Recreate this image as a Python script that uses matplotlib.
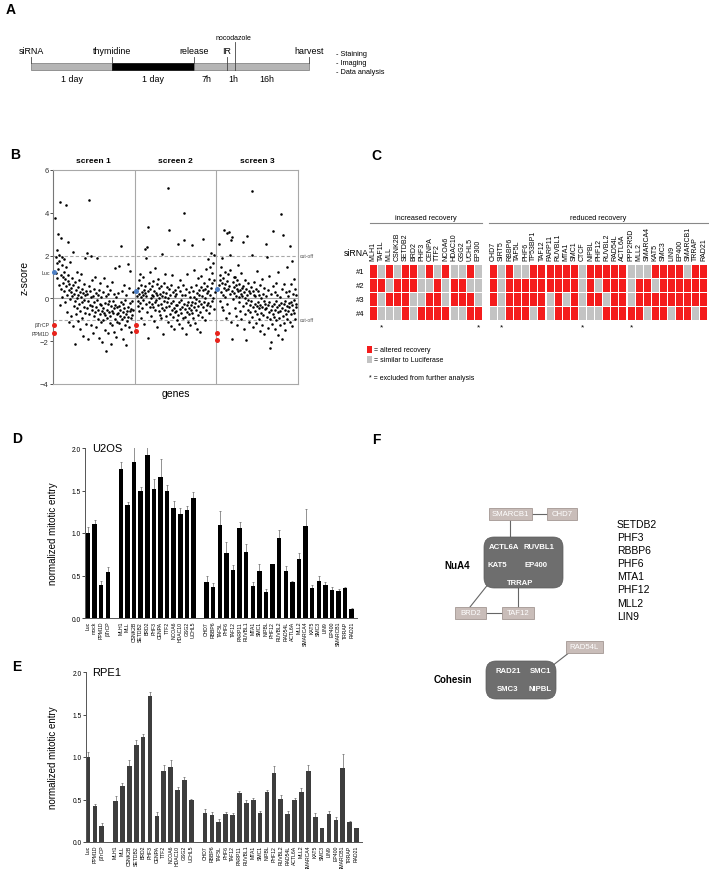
import numpy as np
import matplotlib.pyplot as plt
from matplotlib.patches import FancyBboxPatch, Rectangle

plt.rcParams['font.family'] = ['Liberation Sans', 'DejaVu Sans']

W, H = 709, 870

# ---------------- data ----------------
# A: timeline
tl_events = ['siRNA', 'thymidine', 'release', 'IR', 'harvest']
tl_spans = ['1 day', '1 day', '7h', '1h', '16h']
tl_after = ['- Staining', '- Imaging', '- Data analysis']

# B: z-scores per screen, in plate order
screen1 = [3.75, 1.92, 1.21, 2.28, 0.95, 1.64, 3.02, 1.38, 0.62, 2.05, 1.77, 4.52, -0.31, 1.11, 0.43, 2.81, 1.55, 0.08, 1.95, 1.02,
           0.72, 1.86, 0.35, 1.24, -0.18, 0.91, 4.35, 0.58, 1.47, -0.62, 0.14, 2.62, 0.83, 1.08, -1.12, 0.41, 0.66, 1.72, -0.05, 0.29,
           0.47, -0.83, 0.95, 0.12, -1.28, 0.61, 2.18, -0.34, 0.22, -2.15, 0.78, -0.12, 0.38, -0.71, 1.25, 0.03, -0.45, 0.55, -1.05, 0.18,
           -0.26, 0.84, -1.42, 0.31, -0.58, 0.07, 1.12, -0.93, 0.42, -0.15, -1.75, 0.26, -0.38, 0.68, -0.07, 1.88, -0.66, 0.15, -1.18, 0.36,
           2.12, -0.47, 0.21, -1.92, -0.13, 0.58, 4.62, -0.74, 0.33, -0.29, 1.98, -1.22, 0.05, -0.55, 0.87, -0.36, -1.63, 0.11, -0.82, 0.44,
           -0.19, 1.02, -0.63, -1.35, 0.27, -0.41, -0.08, 1.91, -0.95, 0.16, -0.52, -1.84, 0.39, -0.24, -0.71, 0.72, -1.08, -0.33, 0.06, -0.58,
           -2.02, -0.44, 0.31, -1.01, -0.66, 0.95, -0.21, -1.48, -0.77, 0.12, -2.45, -0.52, 0.58, -0.91, -0.28, -1.62, 0.22, -0.63, -0.12, -1.17,
           -0.83, 0.41, -0.37, -2.12, -0.58, 0.78, -1.26, -0.14, -0.69, 0.19, -1.55, -0.47, 1.43, -0.98, -0.31, -1.82, 0.05, -0.74, -0.42, -1.09,
           -0.66, 0.27, -1.13, -0.35, 1.52, -0.81, -0.52, -1.41, 2.45, -0.18, -0.94, 0.36, -0.62, -1.92, -0.27, 0.62, -0.88, -0.46, -1.24, -0.09,
           -0.72, -2.18, 0.14, -0.57, -1.06, 1.62, -0.38, -0.85, 0.48, -1.33, -0.61, -0.21, 1.28, -0.93, -0.49, -1.55, -0.12, -0.77, 0.31, -0.55]
screen2 = [0.12, -0.35, 0.48, -0.12, 0.85, -0.58, 0.22, 1.15, -0.21, 0.05, 0.63, -0.92, 0.31, -0.44, 0.18, 1.02, -0.07, 0.41, -1.18, 0.27,
           2.31, 0.56, -0.28, 1.88, 0.09, 2.42, -0.62, 0.34, 3.35, -1.85, 0.71, -0.15, 0.44, -0.38, 1.24, 0.02, -0.83, 0.59, -0.24, 0.17,
           -0.42, 0.83, 0.11, -1.05, 0.36, -0.19, 1.42, -0.55, 0.25, -0.08, 0.68, -1.32, 0.14, -0.33, 0.92, -0.61, 0.04, 0.47, -0.76, 0.21,
           -0.27, 0.58, -0.92, 0.13, 2.08, -0.45, 0.32, -1.68, -0.14, 0.74, -0.52, 0.06, 1.15, -0.38, -0.81, 0.26, -0.17, 0.51, -1.12, 0.02,
           5.15, 3.21, -0.35, 0.42, -0.71, 0.15, -1.28, -0.22, 0.63, -0.54, 1.08, -0.12, -0.88, 0.28, -0.43, -1.45, 0.09, -0.64, 0.37, -0.29,
           -0.58, 0.21, -1.02, -0.31, 0.55, -0.77, 2.52, -0.16, -1.21, 0.33, -0.48, 0.88, -0.69, -0.07, -1.38, 0.18, -0.42, 0.62, -0.91, -0.24,
           3.98, 2.71, -0.51, 0.14, -0.85, -1.66, 0.45, -0.33, -0.62, 1.12, -0.18, -1.08, 0.28, -0.47, -0.74, 0.07, -1.25, 0.52, -0.29, -0.56,
           -0.15, 2.48, -0.68, 0.36, -0.92, 0.08, -0.41, 1.34, -1.15, -0.22, 0.61, -0.53, -0.04, -1.42, 0.23, 0.95, -0.36, -0.78, 0.41, -0.11,
           0.18, -0.62, -1.58, 0.54, -0.25, 1.05, 0.12, -0.88, 0.38, -0.41, 2.78, 0.71, -0.18, -1.02, 0.46, 0.02, 1.38, -0.52, 0.26, -0.31,
           0.58, -0.22, 1.82, 0.35, -0.68, 0.92, 0.14, 1.46, -0.35, 2.11, 0.47, -0.12, 1.18, 0.72, 0.03, 1.65, -0.48, 0.86, 2.02, 0.31]
screen3 = [2.55, 0.62, 1.08, -0.12, 0.85, 0.31, 1.45, -0.38, 0.72, 1.88, 0.15, 0.96, -0.55, 0.48, 3.21, 1.22, 0.08, 0.67, -0.91, 0.39,
           0.82, 3.05, -0.24, 1.15, 0.44, 3.12, -0.68, 0.57, 2.02, 0.19, 1.32, -1.12, 2.72, 0.35, -1.88, 2.86, 0.76, -0.05, 0.51, 0.98,
           0.27, -0.44, 1.02, 0.61, -0.82, 0.13, 0.88, 0.42, -1.25, 0.33, 1.56, -0.18, 0.69, 0.05, -0.57, 0.38, 1.18, -0.96, 0.22, 0.47,
           0.11, 2.62, -0.36, 0.58, -1.42, 0.28, -0.71, 0.84, 0.02, -1.95, 0.45, -0.22, 2.92, 0.16, -0.53, 0.72, -0.09, -1.08, 0.35, -0.31,
           0.24, -0.62, 0.51, -0.14, 5.02, -0.88, 2.05, 0.33, -0.41, -1.35, 0.18, 0.78, -0.27, -0.58, 0.09, -1.16, 0.42, -0.35, 1.28, -0.72,
           -0.18, 0.36, -0.95, -0.43, 0.15, -1.52, 0.62, -0.29, -0.66, 0.04, 0.92, -1.22, -0.38, 0.21, -0.79, -0.12, -1.65, 0.48, -0.51, -0.25,
           2.56, -0.46, 0.13, 1.92, -0.85, -0.31, -1.38, 0.38, -0.62, -0.15, 1.05, -0.98, -2.31, -2.02, -0.52, 0.22, -1.18, -0.36, 0.56, -0.71,
           3.15, -0.28, -0.88, 0.31, -1.45, -0.52, 0.72, -0.14, -1.02, -0.41, 0.15, -1.72, -0.63, 1.22, -0.33, -0.92, 0.08, -0.58, -1.26, -0.21,
           3.95, -1.90, -0.46, 0.42, -0.82, 2.94, -0.25, -1.15, 0.65, -0.55, -0.12, -1.48, 0.28, -0.71, 1.45, -0.36, -0.98, 0.12, -0.61, -0.22,
           -0.42, 0.35, -1.08, 2.45, -0.18, 0.68, -0.75, 1.75, -0.31, -1.28, 0.22, -0.52, 0.91, -0.09, -0.66, 0.46, -0.95, -0.24, 0.15, -0.38]
luc_z = [1.23, 0.34, 0.43]
btrcp_z = [-1.23, -1.23, -1.63]
ppm1d_z = [-1.63, -1.50, -1.95]
cutoffs = [2, -1]

# C: validation heatmap (1 = altered recovery, 0 = similar to Luciferase)
inc_genes = ['MLH1', 'TAF1L', 'MLL', 'CSNK2B', 'SETDB2', 'BRD2', 'PHF3', 'CENPA', 'TTF2', 'NCOA6',
             'HDAC10', 'GSG2', 'UCHL5', 'EP300']
inc_calls = [[1, 0, 1, 0, 1, 1, 0, 1, 0, 1, 0, 0, 1, 0],
             [1, 1, 0, 1, 1, 1, 0, 0, 1, 0, 1, 1, 0, 0],
             [1, 0, 1, 1, 1, 0, 0, 1, 1, 0, 1, 1, 1, 0],
             [1, 0, 0, 0, 1, 0, 1, 1, 1, 1, 0, 0, 1, 1]]
red_genes = ['CHD7', 'SIRT5', 'RBBP6', 'TAF5L', 'PHF6', 'TP53BP1', 'TAF12', 'PARP11', 'RUVBL1', 'MTA1',
             'SMC1', 'CTCF', 'NIPBL', 'PHF12', 'RUVBL2', 'RAD54L', 'ACTL6A', 'PPP2R5D', 'MLL2', 'SMARCA4',
             'KAT5', 'SMC3', 'LIN9', 'EP400', 'SMARCB1', 'TRRAP', 'RAD21']
red_calls = [[1, 0, 1, 0, 0, 1, 1, 1, 1, 1, 1, 0, 1, 1, 1, 1, 1, 0, 0, 0, 1, 1, 1, 1, 0, 1, 1],
             [1, 0, 1, 1, 1, 1, 1, 1, 1, 1, 1, 0, 1, 0, 1, 1, 1, 0, 1, 1, 0, 1, 1, 1, 1, 1, 1],
             [1, 0, 1, 1, 1, 1, 1, 0, 1, 0, 1, 0, 1, 1, 0, 1, 1, 0, 1, 1, 1, 1, 1, 1, 1, 1, 1],
             [0, 0, 1, 1, 1, 0, 1, 0, 1, 1, 1, 0, 0, 0, 1, 1, 1, 1, 1, 0, 1, 1, 0, 1, 1, 0, 1]]
excluded = ['TAF1L', 'EP300', 'SIRT5', 'CTCF', 'PPP2R5D']
sirna_ids = ['#1', '#2', '#3', '#4']

# D/E: normalized mitotic entry
grp_inc = ['MLH1', 'MLL', 'CSNK2B', 'SETDB2', 'BRD2', 'PHF3', 'CENPA', 'TTF2', 'NCOA6', 'HDAC10', 'GSG2', 'UCHL5']
grp_red = ['CHD7', 'RBBP6', 'TAF5L', 'PHF6', 'TAF12', 'PARP11', 'RUVBL1', 'MTA1', 'SMC1', 'NIPBL', 'PHF12',
           'RUVBL2', 'RAD54L', 'ACTL6A', 'MLL2', 'SMARCA4', 'KAT5', 'SMC3', 'LIN9', 'EP400', 'SMARCB1', 'TRRAP', 'RAD21']
u2os_ctrl = ['Luc', 'mock', 'PPM1D', 'βTrCP']
u2os_ctrl_val = [1.00, 1.11, 0.39, 0.54]
u2os_ctrl_top = [1.07, 1.15, 0.44, 0.60]
u2os_inc_val = [1.75, 1.33, 1.83, 1.49, 1.92, 1.52, 1.66, 1.50, 1.29, 1.22, 1.27, 1.41]
u2os_inc_top = [1.84, 1.37, 2.01, 1.54, 2.01, 1.63, 1.87, 1.57, 1.38, 1.30, 1.32, 1.48]
u2os_red_val = [0.42, 0.37, 1.09, 0.77, 0.56, 1.06, 0.78, 0.38, 0.55, 0.31, 0.63, 0.94, 0.55, 0.42, 0.70, 1.08,
                0.35, 0.44, 0.39, 0.33, 0.32, 0.35, 0.11]
u2os_red_top = [0.49, 0.41, 1.26, 0.89, 0.62, 1.13, 0.87, 0.42, 0.63, 0.34, 0.64, 1.04, 0.61, 0.44, 0.76, 1.28,
                0.39, 0.49, 0.42, 0.36, 0.34, 0.36, 0.12]
rpe1_ctrl = ['Luc', 'PPM1D', 'βTrCP']
rpe1_ctrl_val = [1.00, 0.42, 0.19]
rpe1_ctrl_top = [1.06, 0.45, 0.22]
rpe1_inc_val = [0.48, 0.66, 0.90, 1.14, 1.24, 1.72, 0.31, 0.84, 0.88, 0.61, 0.73, 0.50]
rpe1_inc_top = [0.54, 0.70, 0.97, 1.20, 1.27, 1.76, 0.35, 0.91, 0.96, 0.65, 0.76, 0.51]
rpe1_red_val = [0.34, 0.32, 0.23, 0.33, 0.32, 0.58, 0.46, 0.49, 0.34, 0.59, 0.81, 0.51, 0.33, 0.49, 0.59, 0.84,
                0.30, 0.16, 0.33, 0.26, 0.87, 0.23, 0.16]
rpe1_red_top = [0.39, 0.35, 0.27, 0.35, 0.34, 0.60, 0.49, 0.52, 0.37, 0.61, 0.89, 0.55, 0.36, 0.52, 0.63, 0.91,
                0.34, 0.17, 0.37, 0.30, 1.03, 0.25, 0.17]

# F: complexes
nua4_members = ['ACTL6A', 'RUVBL1', 'KAT5', 'EP400', 'TRRAP']
cohesin_members = ['RAD21', 'SMC1', 'SMC3', 'NIPBL']
other_hits = ['SETDB2', 'PHF3', 'RBBP6', 'PHF6', 'MTA1', 'PHF12', 'MLL2', 'LIN9']


def rect(x, y, w, h):
    return [x / W, 1 - (y + h) / H, w / W, h / H]


fig = plt.figure(figsize=(W / 100, H / 100), dpi=100)
ov = fig.add_axes([0, 0, 1, 1])
ov.set_xlim(0, W)
ov.set_ylim(H, 0)
ov.axis('off')

for letter, (lx, ly) in zip('ABCDEF', [(11, 10), (15, 155), (376, 156), (17, 439), (17, 667), (376, 440)]):
    ov.text(lx, ly, letter, fontsize=10, fontweight='bold', ha='center', va='center')

# ---------------- A ----------------
ev_x = [31, 112, 194, 227, 309]
noco_x = 235
bar_y, bar_h = 64, 7
ov.add_patch(Rectangle((31, bar_y), 81, bar_h, fc='#b5b5b5', ec='#777777', lw=0.5))
ov.add_patch(Rectangle((112, bar_y), 82, bar_h, fc='black', ec='black', lw=0.5))
ov.add_patch(Rectangle((194, bar_y), 115, bar_h, fc='#b5b5b5', ec='#777777', lw=0.5))
for name, x in zip(tl_events, ev_x):
    y1 = bar_y + bar_h if name == 'IR' else bar_y
    ov.plot([x, x], [58, y1], color='#444444', lw=0.6)
    ov.text(x, 52, name, fontsize=6.4, ha='center', va='center')
ov.plot([noco_x, noco_x], [43, bar_y + bar_h], color='#444444', lw=0.6)
ov.text(noco_x - 2, 38, 'nocodazole', fontsize=5, ha='center', va='center')
for lab, x in zip(tl_spans, [72, 153, 207, 233, 267]):
    ov.text(x, 79, lab, fontsize=6.4, ha='center', va='center')
for k, lab in enumerate(tl_after):
    ov.text(336, 54.5 + 8.8 * k, lab, fontsize=5.3, ha='left', va='center')

# ---------------- B ----------------
axB = fig.add_axes(rect(53, 171, 245, 214))
gcol = '#a8a8a8'
for k, vals in enumerate([screen1, screen2, screen3]):
    n = len(vals)
    xs = k + 0.03 + 0.95 * np.arange(n) / (n - 1)
    axB.scatter(xs, vals, s=3.4, c='black', linewidths=0, zorder=3)
    axB.scatter([k + 0.012], [luc_z[k]], s=13, c='#4d7fc4', linewidths=0, zorder=4, clip_on=False)
    axB.scatter([k + 0.012] * 2, [btrcp_z[k], ppm1d_z[k]], s=13, c='#e8231b', linewidths=0, zorder=4,
                clip_on=False)
    axB.text(k + 0.5, 1.03, f'screen {k + 1}', transform=axB.get_xaxis_transform(), fontsize=6,
             fontweight='bold', ha='center', va='bottom')
for xv in (1, 2):
    axB.axvline(xv, color=gcol, lw=0.8, zorder=1)
axB.axhline(0, color=gcol, lw=0.8, zorder=1)
for c in cutoffs:
    axB.axhline(c, color=gcol, lw=0.8, ls=(0, (3, 2)), zorder=1)
    axB.text(3.02, c, 'cut-off', fontsize=3.6, color='#555555', ha='left', va='center', clip_on=False)
axB.text(-0.04, luc_z[0], 'Luc', fontsize=3.8, color='#333333', ha='right', va='center')
axB.text(-0.04, btrcp_z[0], 'βTrCP', fontsize=3.8, color='#333333', ha='right', va='center')
axB.text(-0.04, ppm1d_z[0], 'PPM1D', fontsize=3.8, color='#333333', ha='right', va='center')
axB.set_xlim(0, 3)
axB.set_ylim(-4, 6)
axB.set_yticks([-4, -2, 0, 2, 4, 6])
axB.set_xticks([])
axB.tick_params(axis='y', labelsize=5.5, length=2, width=0.6, pad=1, colors='#333333')
for sp in axB.spines.values():
    sp.set_color(gcol)
    sp.set_linewidth(0.8)
axB.spines['left'].set_color('#777777')
axB.set_ylabel('z-score', fontsize=7.5)
axB.yaxis.set_label_coords(-0.095, 0.5)
axB.set_xlabel('genes', fontsize=7.5)
axB.xaxis.set_label_coords(0.5, -0.02)

# ---------------- C ----------------
axC = fig.add_axes(rect(369, 265, 339, 57))
red_c, grey_c = '#f41c1c', '#c3c3c3'
inc_x = np.arange(len(inc_genes))
red_x = 14.85 + np.arange(len(red_genes))
for r in range(4):
    for xs, calls in ((inc_x, inc_calls[r]), (red_x, red_calls[r])):
        axC.bar(xs + 0.5, 0.9, bottom=r + 0.05, width=0.86,
                color=[red_c if v else grey_c for v in calls], edgecolor='none')
    axC.text(-0.5, r + 0.5, sirna_ids[r], fontsize=5.5, ha='right', va='center')
for xs, genes in ((inc_x, inc_genes), (red_x, red_genes)):
    for x, g in zip(xs, genes):
        axC.text(x + 0.5, -0.3, g, rotation=90, fontsize=5.0, ha='center', va='bottom')
        if g in excluded:
            axC.text(x + 0.5, 4.15, '*', fontsize=6, ha='center', va='top')
axC.set_xlim(0, 41.85)
axC.set_ylim(4, 0)
axC.axis('off')
ov.text(356, 253, 'siRNA', fontsize=6.3, ha='center', va='center')
ov.plot([370, 482], [224, 224], color='#888888', lw=0.8)
ov.plot([489, 708], [224, 224], color='#888888', lw=0.8)
ov.text(426, 218.5, 'increased recovery', fontsize=5.3, ha='center', va='center')
ov.text(598, 218.5, 'reduced recovery', fontsize=5.3, ha='center', va='center')
ov.add_patch(Rectangle((367, 347), 4.5, 7, fc=red_c, ec='none'))
ov.add_patch(Rectangle((367, 357), 4.5, 7, fc=grey_c, ec='none'))
ov.text(373.5, 350.5, '= altered recovery', fontsize=5, ha='left', va='center')
ov.text(373.5, 360.5, '= similar to Luciferase', fontsize=5, ha='left', va='center')
ov.text(369, 378.5, '* = excluded from further analysis', fontsize=5, ha='left', va='center')


# ---------------- D / E ----------------
def bar_panel(box, labels, vals, tops, pos, color, cell, xlim):
    ax = fig.add_axes(rect(*box))
    vals = np.array(vals)
    tops = np.array(tops)
    ax.bar(pos, vals, width=0.68, color=color, zorder=2)
    ax.errorbar(pos, vals, yerr=[np.zeros_like(vals), tops - vals], fmt='none',
                ecolor='#666666', elinewidth=0.5, capsize=0.8, capthick=0.5, zorder=1)
    ax.set_xlim(*xlim)
    ax.set_ylim(0, 2.0)
    ax.set_yticks([0, 0.5, 1.0, 1.5, 2.0])
    ax.set_yticklabels(['0.0', '0.5', '1.0', '1.5', '2.0'])
    ax.set_xticks(pos)
    ax.set_xticklabels(labels, rotation=90, fontsize=3.7)
    ax.tick_params(axis='y', labelsize=4.8, length=2, width=0.5, pad=1)
    ax.tick_params(axis='x', length=0, pad=2)
    for s in ('top', 'right'):
        ax.spines[s].set_visible(False)
    for s in ('left', 'bottom'):
        ax.spines[s].set_color('#555555')
        ax.spines[s].set_linewidth(0.7)
    ax.set_ylabel('normalized mitotic entry', fontsize=7)
    ax.yaxis.set_label_coords(-0.1, 0.5)
    ax.text(pos[0] + 0.6, 2.0, cell, fontsize=8, ha='left', va='center')
    return ax


pos_d = np.concatenate([np.arange(4), 5 + np.arange(12), 18 + np.arange(23)])
bar_panel((85, 449, 272, 170), u2os_ctrl + grp_inc + grp_red,
          u2os_ctrl_val + u2os_inc_val + u2os_red_val, u2os_ctrl_top + u2os_inc_top + u2os_red_top,
          pos_d, 'black', 'U2OS', (-0.45, 40.8))
pos_e = np.concatenate([np.arange(3), 4 + np.arange(12), 17 + np.arange(23)])
bar_panel((86, 673, 276, 170), rpe1_ctrl + grp_inc + grp_red,
          rpe1_ctrl_val + rpe1_inc_val + rpe1_red_val, rpe1_ctrl_top + rpe1_inc_top + rpe1_red_top,
          pos_e, '#3d3d3d', 'RPE1', (-0.3, 39.8))

# ---------------- F ----------------
dark, light, light_ec, lcol = '#6e6e6e', '#c9bdb9', '#a39793', '#666666'


def complex_box(x, y, w, h, names, spots):
    ov.add_patch(FancyBboxPatch((x, y), w, h, boxstyle='round,pad=0,rounding_size=10',
                                fc=dark, ec='#5a5a5a', lw=0.5, zorder=2))
    for nm, (tx, ty) in zip(names, spots):
        ov.text(tx, ty, nm, color='white', fontsize=5.6, fontweight='bold', ha='center', va='center', zorder=3)


def small_box(cx, cy, w, name):
    ov.add_patch(Rectangle((cx - w / 2, cy - 6), w, 12, fc=light, ec=light_ec, lw=0.6, zorder=2))
    ov.text(cx, cy, name, color='white', fontsize=5.6, ha='center', va='center', zorder=3)


ov.plot([531, 547], [515, 515], color=lcol, lw=0.8, zorder=1)
ov.plot([510, 510], [521, 540], color=lcol, lw=0.8, zorder=1)
ov.plot([487.5, 470], [586, 608], color=lcol, lw=0.8, zorder=1)
ov.plot([486, 502], [613.5, 613.5], color=lcol, lw=0.8, zorder=1)
ov.plot([518, 518], [588, 608], color=lcol, lw=0.8, zorder=1)
ov.plot([552, 570], [667, 653], color=lcol, lw=0.8, zorder=1)
complex_box(484, 538, 79, 51, nua4_members,
            [(504, 548), (539, 548), (497, 566), (536, 566), (520, 584)])
complex_box(486, 662, 70, 38, cohesin_members,
            [(508, 672), (540, 672), (508, 690), (540, 690)])
small_box(510, 515, 43, 'SMARCB1')
small_box(562, 515, 30, 'CHD7')
small_box(470.5, 613.5, 31, 'BRD2')
small_box(518, 613.5, 32, 'TAF12')
small_box(584.5, 647.5, 37, 'RAD54L')
ov.text(457, 566, 'NuA4', fontsize=7, fontweight='bold', ha='center', va='center')
ov.text(453, 680, 'Cohesin', fontsize=7, fontweight='bold', ha='center', va='center')
for k, g in enumerate(other_hits):
    ov.text(617, 525 + 13.1 * k, g, fontsize=7.5, ha='left', va='center')

fig.savefig('out.png', dpi=100)
